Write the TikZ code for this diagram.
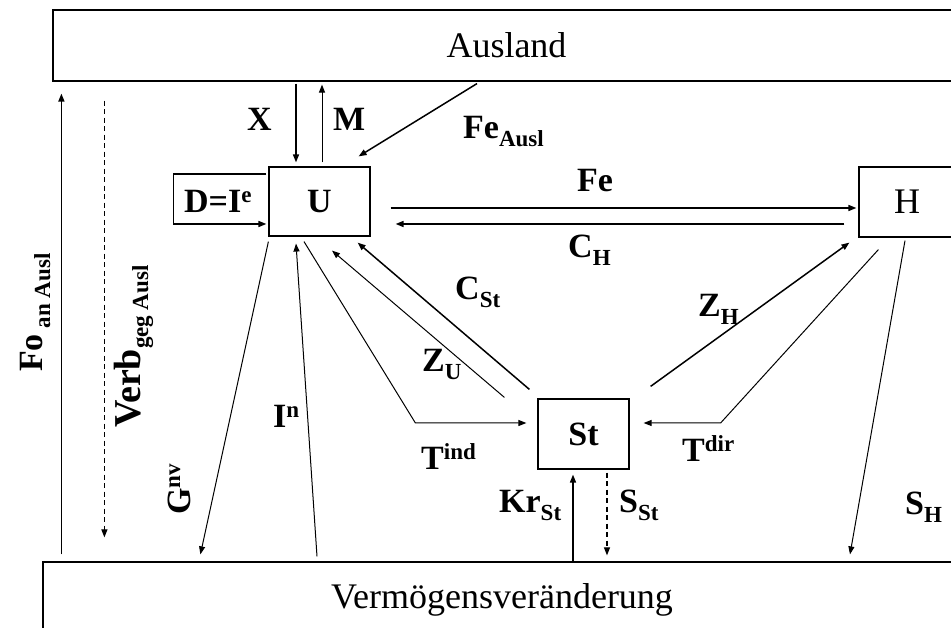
\documentclass[tikz,border=0pt]{standalone}
\usepackage{fontspec}
\setmainfont{Liberation Serif}
\usetikzlibrary{arrows.meta,calc}
\newcommand\lsub[1]{\raisebox{-8pt}{\fontsize{23}{25}\selectfont #1}}
\newcommand\lsup[1]{\raisebox{10pt}{\fontsize{23}{25}\selectfont #1}}

\begin{document}
\begin{tikzpicture}[x=1pt,y=1pt,>={Triangle[length=8pt,width=6pt]},
  box/.style={draw,line width=1.2pt,inner sep=0pt,font=\fontsize{36}{40}\selectfont},
  ubox/.style={box,font=\fontsize{34}{38}\selectfont\bfseries},
  lbl/.style={inner sep=0pt,anchor=base west,font=\fontsize{34}{38}\selectfont\bfseries},
  flow/.style={->,line width=1.5pt},
  tflow/.style={->,line width=1pt},
  dflow/.style={->,line width=1.1pt,dash pattern=on 5pt off 3.5pt}]
\useasboundingbox (0,0) rectangle (951,628);
\clip (0,0) rectangle (951,628);
% sectors
\node[box,minimum width=907pt,minimum height=71pt] (ausl) at (506.5,582.5) {Ausland};
\node[box,minimum width=918pt,minimum height=76pt] (verm) at (502,28) {Vermögensveränderung};
\node[ubox,minimum width=101pt,minimum height=69pt] (U) at (319.5,426.5) {U};
\node[box,minimum width=96pt,minimum height=70pt] (H) at (907,426) {H};
\node[ubox,minimum width=91pt,minimum height=70pt] (St) at (583.5,194) {St};
% flows with Ausland
\draw[flow] ($(ausl.south -| U.north)+(-23.5,-2)$) -- ($(U.north)+(-23.5,4)$);
\draw[tflow] ($(U.north)+(2.5,4)$) -- ($(ausl.south -| U.north)+(2.5,-3)$);
\draw[flow] ($(ausl.south)+(-29.5,-2)$) -- ($(U.north east)+(-12,10)$);
\draw[flow] ($(verm.north west)+(19,7)$) -- ($(ausl.south west)+(9,-12)$);
\draw[dflow] ($(ausl.south west)+(52,-19)$) -- ($(verm.north west)+(62,24)$);
% U and H
\draw[flow] ($(U.east)+(20,-6.5)$) -- ($(H.west)+(-2,-6)$);
\draw[flow] ($(H.west)+(-14,-22)$) -- ($(U.east)+(25,-22.5)$);
\draw[flow] ($(U.west)+(-2,27.5)$) -- ++(-93,0) -- ++(0,-50) -- ($(U.west)+(-2,-22.5)$);
% U and St
\draw[tflow] ($(U.south)+(-15.5,-5)$) -- ($(St.west)+(-122,11)$) -- ($(St.west)+(-11,11)$);
\draw[tflow] ($(St.north west)+(-33,1)$) -- ($(U.south)+(12.5,-14)$);
\draw[flow] ($(St.north west)+(-8,9)$) -- ($(U.south east)+(-13,-6)$);
% H and St
\draw[flow] ($(St.north east)+(21,12)$) -- ($(H.south west)+(-9,-5)$);
\draw[tflow] ($(H.south west)+(20,-12)$) -- ($(St.east)+(91,11)$) -- ($(St.east)+(14,11)$);
% Vermoegensveraenderung
\draw[tflow] ($(U.south west)+(0,-5)$) -- ($(verm.north west)+(158,7)$);
\draw[tflow] ($(U.south |- verm.north)+(-2.5,5)$) -- ($(U.south)+(-23.5,-7)$);
\draw[tflow] ($(H.south)+(-2,-3)$) -- ($(verm.north)+(348,7)$);
\draw[flow] ($(St.south |- verm.north)+(-10.5,0)$) -- ($(St.south)+(-10.5,-5)$);
\draw[dflow] ($(St.south)+(23.5,-3)$) -- ($(St.south |- verm.north)+(23.5,6)$);
% labels
\node[lbl] (lx) at (247,497) {X};
\node[lbl] (lm) at (333,497) {M};
\node[lbl] (lfea) at (463,489) {Fe\lsub{Ausl}};
\node[lbl] (lfe) at (577,436) {Fe};
\node[lbl] (lch) at (568,370) {C\lsub{H}};
\node[lbl] (ld) at (184,415) {D=I\lsup{e}};
\node[lbl] (lcst) at (455,328) {C\lsub{St}};
\node[lbl] (lzu) at (422,256) {Z\lsub{U}};
\node[lbl] (lzh) at (698,311) {Z\lsub{H}};
\node[lbl] (lin) at (273,200) {I\lsup{n}};
\node[lbl] (ltind) at (421,158) {T\lsup{ind}};
\node[lbl] (ltdir) at (682,166) {T\lsup{dir}};
\node[lbl] (lkr) at (499,115) {Kr\lsub{St}};
\node[lbl] (lsst) at (619,115) {S\lsub{St}};
\node[lbl] (lsh) at (905,113) {S\lsub{H}};
\node[lbl,rotate=90] (lg) at (190,113) {G\lsup{nv}};
\node[lbl,rotate=90] (lfo) at (42,256) {Fo\lsub{\ an Ausl}};
\node[lbl,rotate=90,font=\fontsize{38}{40}\selectfont\bfseries] (lverb) at (140,200) {Verb\lsub{geg Ausl}};
\end{tikzpicture}
\end{document}
